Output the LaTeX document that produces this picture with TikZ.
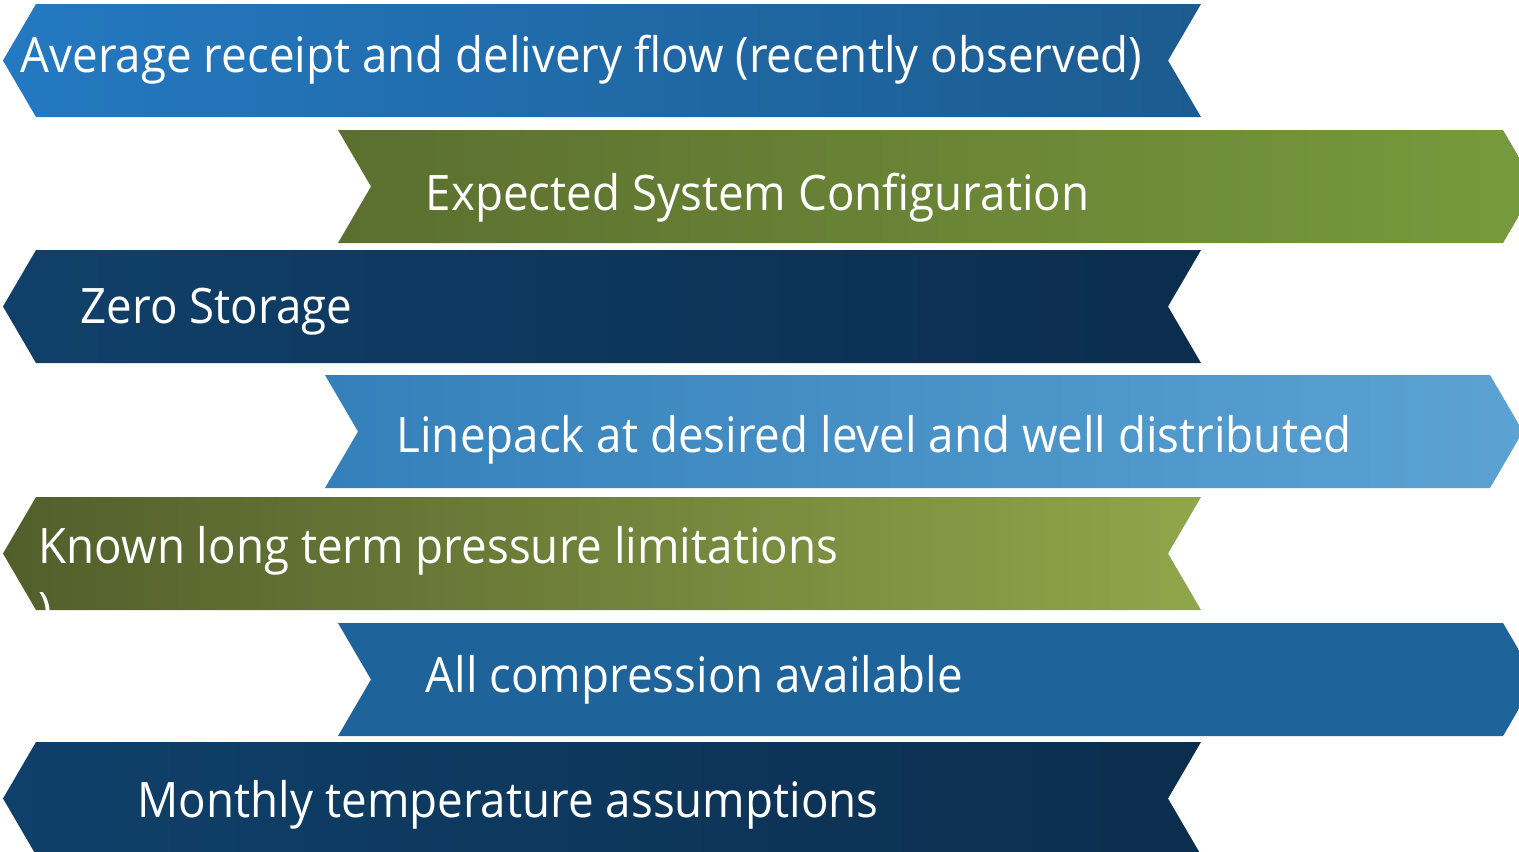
\documentclass[tikz,border=0pt]{standalone}
\usepackage{fontspec}
\setmainfont{Open Sans}[FakeStretch=0.935]
\usetikzlibrary{calc}
\definecolor{avgl}{HTML}{2479C1}
\definecolor{avgr}{HTML}{1C5B8F}
\definecolor{cfgl}{HTML}{5B6F2F}
\definecolor{cfgr}{HTML}{789A3D}
\definecolor{zerol}{HTML}{10406A}
\definecolor{zeror}{HTML}{0B2D4F}
\definecolor{lpl}{HTML}{3480BA}
\definecolor{lpr}{HTML}{5CA3D3}
\definecolor{presl}{HTML}{535E2B}
\definecolor{presr}{HTML}{8FA64A}
\definecolor{compl}{HTML}{1E6399}
\definecolor{compr}{HTML}{1E6399}
\definecolor{templ}{HTML}{0F406A}
\definecolor{tempr}{HTML}{0C2E4E}
\tikzstyle{label}=[text=white,anchor=base west,inner sep=0pt,font=\fontsize{13.9pt}{16pt}\selectfont]

\begin{document}
\begin{tikzpicture}[x=0.01cm,y=-0.01cm]
\def \bh {113};
\def \dep {33};
\def \lpos {3};
\def \rpos {1201};

\useasboundingbox (0,0) rectangle (1519,851);

% banners pointing left
\foreach \y/\cl/\cr in {4/avgl/avgr, 250/zerol/zeror, 497/presl/presr, 742/templ/tempr} {
	\shade[left color=\cl, right color=\cr]
	    (\lpos+\dep,\y) -- (\rpos,\y) -- (\rpos-\dep,\y+\bh/2) -- (\rpos,\y+\bh)
	    -- (\lpos+\dep,\y+\bh) -- (\lpos,\y+\bh/2) -- cycle;
};

% banners pointing right
\foreach \y/\xa/\xb/\cl/\cr in {130/338/1503/cfgl/cfgr, 375/325/1490/lpl/lpr, 623/338/1503/compl/compr} {
	\shade[left color=\cl, right color=\cr]
	    (\xa,\y) -- (\xb,\y) -- (\xb+\dep,\y+\bh/2) -- (\xb,\y+\bh)
	    -- (\xa,\y+\bh) -- (\xa+\dep,\y+\bh/2) -- cycle;
};

\node[label] (avg) at (20,72) {Average receipt and delivery flow (recently observed)};
\node[label] (cfg) at (425,210) {Expected System Configuration};
\node[label] (zero) at (80,323) {Zero Storage};
\node[label] (linepack) at (396,452) {Linepack at desired level and well distributed};
\node[label] (pressure) at (38,563) {Known long term pressure limitations};
\node[label] (compress) at (425,692) {All compression available};
\node[label] (temp) at (137,817) {Monthly temperature assumptions};

\begin{scope}
	\clip (\lpos+\dep,497) -- (\rpos,497) -- (\rpos-\dep,497+\bh/2) -- (\rpos,497+\bh)
	    -- (\lpos+\dep,497+\bh) -- (\lpos,497+\bh/2) -- cycle;
	\node[label] (paren) at (38,627) {)};
\end{scope}

\end{tikzpicture}
\end{document}
